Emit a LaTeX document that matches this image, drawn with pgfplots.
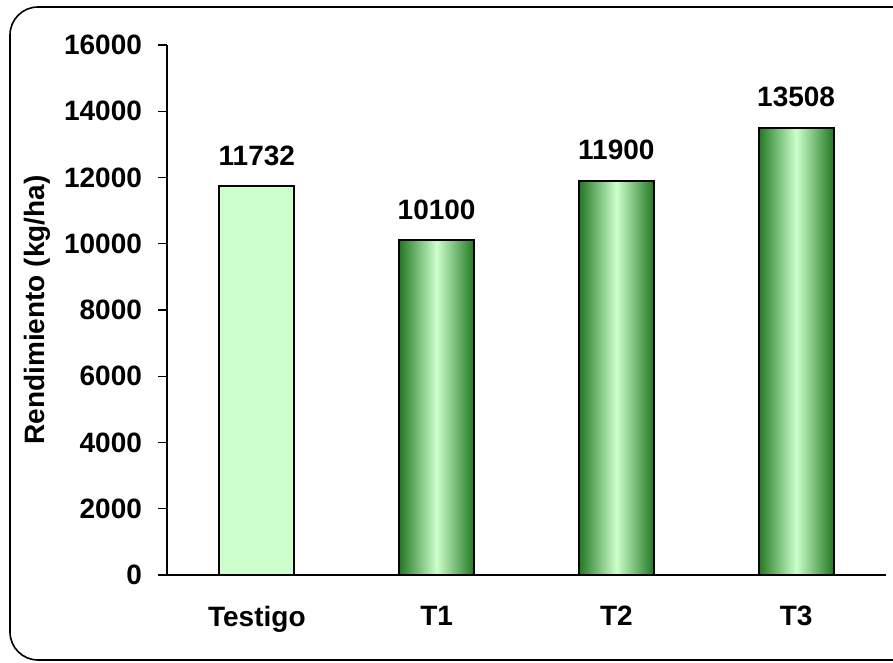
\documentclass[border=0pt]{standalone}
\usepackage{pgfplots}
\pgfplotsset{compat=1.18}
\usepackage{fontspec}
\setmainfont{Liberation Sans}
\definecolor{lgreen}{RGB}{204,255,204}
\definecolor{dgreen}{RGB}{34,120,34}
\begin{document}
\begin{tikzpicture}
\useasboundingbox (0,0) rectangle (446.5pt,331.5pt);
\draw[line width=0.8pt,rounded corners=14pt] (5pt,1.5pt) rectangle (460pt,328pt);
\begin{axis}[
  at={(83.5pt,44pt)}, anchor=south west,
  scale only axis, width=359.5pt, height=265pt,
  xmin=-0.5, xmax=3.5, ymin=0, ymax=16000,
  axis lines=left, axis line style={-, line width=0.6pt},
  xtick={0,1,2,3}, xticklabels={Testigo,T1,T2,T3},
  extra x ticks={-0.5,0.5,1.5,2.5,3.5}, extra x tick labels={},
  extra x tick style={major tick length=4.5pt, tick style={line width=0.6pt, black}, tick align=outside},
  x tick style={draw=none},
  ytick={0,2000,...,16000},
  y tick style={line width=0.6pt, black},
  tick align=outside, major tick length=4.5pt,
  yticklabel style={/pgf/number format/1000 sep={}, font=\fontsize{14}{16}\selectfont\bfseries, xshift=-4.5pt},
  xticklabel style={font=\fontsize{14}{16}\selectfont\bfseries, yshift=-7.5pt},
  /pgf/number format/assume math mode=true,
  scaled y ticks=false,
  ylabel={Rendimiento (kg/ha)},
  ylabel style={font=\fontsize{14}{16}\selectfont\bfseries, at={(axis description cs:-0.181,0.5)}, anchor=center},
  ybar, bar width=37.5pt,
  nodes near coords,
  every node near coord/.append style={font=\fontsize{14}{16}\selectfont\bfseries, inner sep=0pt, yshift=10pt, /pgf/number format/1000 sep={}},
  clip=false,
]
\addplot[draw=black, line width=1pt, fill=lgreen, bar shift=0pt] coordinates {(0,11732)};
\addplot[draw=black, line width=1pt, left color=dgreen, right color=dgreen, middle color=lgreen, bar shift=0pt] coordinates {(1,10100)};
\addplot[draw=black, line width=1pt, left color=dgreen, right color=dgreen, middle color=lgreen, bar shift=0pt] coordinates {(2,11900)};
\addplot[draw=black, line width=1pt, left color=dgreen, right color=dgreen, middle color=lgreen, bar shift=0pt] coordinates {(3,13508)};
\end{axis}
\end{tikzpicture}
\end{document}
